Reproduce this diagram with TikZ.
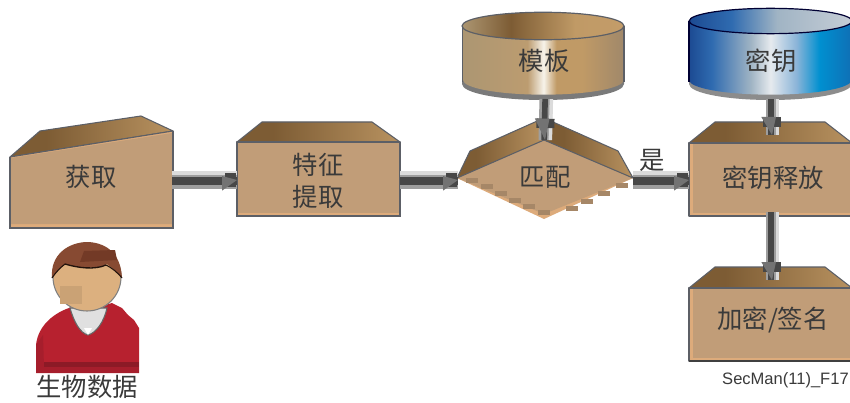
\documentclass[tikz,border=0pt]{standalone}
\usepackage{fontspec}
\setmainfont{Liberation Sans}
\newfontfamily\cjk{Noto Sans CJK SC}
\usetikzlibrary{calc,arrows.meta}
\definecolor{faceC}{HTML}{C19D78}
\definecolor{edgeL}{HTML}{DDAB7B}
\definecolor{lineC}{HTML}{5C5F66}
\definecolor{txtC}{HTML}{3A3A3A}
\definecolor{redC}{HTML}{B7212F}
\definecolor{redD}{HTML}{8C1A26}
\definecolor{redM}{HTML}{A61E2C}
\definecolor{hairC}{HTML}{874A32}
\definecolor{hairD}{HTML}{733A26}
\definecolor{skinC}{HTML}{DCB07F}
\definecolor{r1}{HTML}{7D5C34}\definecolor{r2}{HTML}{B89260}
\pgfdeclarehorizontalshading{roofShade}{100bp}{
 color(0bp)=(r1);
 color(36bp)=(r1);
 color(75bp)=(r2);
 color(100bp)=(r2)}
\definecolor{g1}{HTML}{AC9672}\definecolor{g2}{HTML}{BC9C70}\definecolor{g3}{HTML}{F7F3EA}
\definecolor{g4}{HTML}{C09A66}\definecolor{g5}{HTML}{A0886A}\definecolor{g6}{HTML}{7D5C34}\definecolor{g7}{HTML}{C39C69}
\definecolor{b1}{HTML}{1C4A92}\definecolor{b2}{HTML}{2F6BB0}\definecolor{b3}{HTML}{A0B4C4}\definecolor{b4}{HTML}{E6EAEE}
\definecolor{b5}{HTML}{8AB4D8}\definecolor{b6}{HTML}{0090D0}\definecolor{b7}{HTML}{0F6FB5}\definecolor{b8}{HTML}{C6CDD6}
\pgfdeclarehorizontalshading{goldBody}{100bp}{color(0bp)=(g1);color(25bp)=(g1);color(45bp)=(g2);color(50bp)=(g3);color(54bp)=(g4);color(62bp)=(g4);color(75bp)=(g5);color(100bp)=(g5)}
\pgfdeclarehorizontalshading{goldTop}{100bp}{color(0bp)=(g1);color(25bp)=(g1);color(40bp)=(g6);color(60bp)=(g4);color(75bp)=(g7);color(100bp)=(g7)}
\pgfdeclarehorizontalshading{blueBody}{100bp}{color(0bp)=(b1);color(25bp)=(b1);color(32bp)=(b2);color(44bp)=(b3);color(50bp)=(b4);color(58bp)=(b5);color(65bp)=(b6);color(75bp)=(b7);color(100bp)=(b7)}
\pgfdeclarehorizontalshading{blueTop}{100bp}{color(0bp)=(b1);color(25bp)=(b1);color(38bp)=(b2);color(52bp)=(b3);color(75bp)=(b8);color(100bp)=(b8)}
\tikzset{
 x=0.75pt,y=-0.75pt,
 frontface/.style={fill=edgeL,draw=lineC,line width=0.8pt,line join=round},
 innerface/.style={fill=faceC},
 roof/.style={shading=roofShade,draw=lineC,line width=0.8pt,line join=round},
 label/.style={font=\cjk\fontsize{19}{24}\selectfont,text=txtC,inner sep=0pt},
 tag/.style={font=\fontsize{12.4}{14}\selectfont,text=txtC,inner sep=0pt},
 band/.style={line cap=butt},
}
% \conn{from}{to}{half width}{block near}{block far}{block width}{tip base}
\newcommand{\conn}[7]{%
 \draw[band,line width=#3*1.5pt,draw=black!38] (#1) -- (#2);
 \draw[band,line width=#3*0.4pt,draw=black!14] ($(#1)!#3*0.62pt!90:(#2)$) -- ($(#2)!#3*0.62pt!-90:(#1)$);
 \draw[band,line width=#3*0.65pt,draw=black!72] ($(#1)!#3*0.1pt!-90:(#2)$) -- ($(#2)!#3*0.1pt!90:(#1)$);
 \coordinate (tb) at ($(#2)!#7!(#1)$);
 \draw[band,line width=#6,draw=black!72] ($(#2)!#5!(#1)$) -- ($(#2)!#4!(#1)$);
 \fill[black!55] ($(tb)!8pt!-90:(#2)$) -- (#2) -- ($(tb)!3pt!90:(#2)$) -- cycle;
}
\begin{document}
\begin{tikzpicture}
\clip (0,0) rectangle (850,403);
\fill[white] (0,0) rectangle (850,403);

% ---- capture box
\draw[roof] (10,157) -- (40,131) -- (141,116) -- (173,131) -- cycle;
\draw[frontface] (10,157) -- (173,131) -- (173,228) -- (10,228) -- cycle;
\fill[innerface] (11,158) -- (172,133) -- (172,224) -- (11,224) -- cycle;
\draw[lineC,line width=0.8pt] (10,157) -- (10,228) -- (173,228) -- (173,131);
\node[label] (cap) at (91,177) {获取};
\coordinate (capR) at (172,180);

% ---- feature box
\draw[roof] (237,142) -- (262,122) -- (372,122) -- (400,142) -- cycle;
\draw[frontface] (237,142) rectangle (400,216);
\fill[innerface] (237.6,142.6) rectangle (399.4,212.5);
\draw[lineC,line width=0.8pt] (237,142) -- (237,216) -- (400,216) -- (400,142);
\node[label,align=center] (feat) at (318,181) {特征\\提取};
\coordinate (featL) at (237,180);
\coordinate (featR) at (400,180);

% ---- match diamond
\fill[edgeL] (457,178) -- (544,140) -- (633,178) -- (544,219) -- cycle;
\fill[innerface] (457,178) -- (544,140) -- (633,178) -- (544,214) -- cycle;
\foreach \px/\py in {466/178,481/184,495/191,509/198,523/204,538/210,566/206,581/199,598/191,616/183}
  \fill[black!14!faceC] (\px,\py) rectangle +(12,5);
\draw[roof] (457,178) -- (470,151) -- (544,118) -- (544,140) -- cycle;
\draw[roof] (633,178) -- (618,151) -- (544,118) -- (544,140) -- cycle;
\node[label] (match) at (545,177) {匹配};
\coordinate (matchL) at (458,180);
\coordinate (matchR) at (633,180);
\coordinate (matchT) at (545,140);

% ---- key release box
\draw[roof] (689,143) -- (715,122) -- (825,122) -- (852,143) -- cycle;
\draw[frontface] (689,143) rectangle (853,216);
\fill[innerface] (693,144) rectangle (853,212.5);
\node[label] (rel) at (773,178) {密钥释放};
\coordinate (relL) at (689,180);
\coordinate (relT) at (772,135);
\coordinate (relB) at (772,212);

% ---- encrypt/sign box
\draw[roof] (689,288) -- (715,267) -- (825,267) -- (852,288) -- cycle;
\draw[frontface] (689,288) rectangle (853,361);
\fill[innerface] (693,289) rectangle (853,358);
\draw[black!75,line width=0.8pt] (689,361) -- (853,361);
\node[label] (enc) at (773,320) {加密/签名};
\coordinate (encT) at (772,280);

% ---- template cylinder
\fill[black!52] (462,26) -- (462,84) arc[start angle=180,end angle=360,x radius=60.75pt,y radius=12pt] -- (624,26) -- cycle;
\shade[shading=goldBody] (463,26) -- (463,80) arc[start angle=180,end angle=360,x radius=60.3pt,y radius=11pt] -- (624,26) -- cycle;
\draw[shading=goldTop,draw=lineC,line width=0.9pt] (543,26) ellipse[x radius=60.75pt,y radius=10.3pt];
\draw[lineC,line width=0.8pt] (462.5,26) -- (462.5,82);
\draw[lineC,line width=0.8pt] (624,26) -- (624,82);
\node[label] (tmpl) at (544,61) {模板};
\coordinate (tmplB) at (546,99);

% ---- key cylinder
\fill[black!45] (689,21) -- (689,84) arc[start angle=180,end angle=360,x radius=61pt,y radius=12pt] -- (852,21) -- cycle;
\shade[shading=blueBody] (689,21) -- (689,80) arc[start angle=180,end angle=360,x radius=61pt,y radius=11pt] -- (852,21) -- cycle;
\draw[shading=blueTop,draw=black!80!blue,line width=0.9pt] (770.5,21) ellipse[x radius=61pt,y radius=9.5pt];
\draw[black!80!blue,line width=0.8pt] (689,21) -- (689,82);
\node[label] (keyN) at (771,61) {密钥};
\coordinate (keyB) at (772,99);

% ---- connectors
\conn{capR}{featL}{8.5}{1pt}{9pt}{10pt}{11.25pt}
\conn{featR}{matchL}{8.5}{1pt}{9pt}{10pt}{11.25pt}
\conn{matchR}{relL}{8.5}{1pt}{9pt}{10pt}{11.25pt}
\conn{tmplB}{matchT}{6.5}{9pt}{16pt}{13.5pt}{16pt}
\conn{keyB}{relT}{6.5}{6pt}{13.5pt}{13.5pt}{13.5pt}
\conn{relB}{encT}{6.5}{6pt}{13.5pt}{13.5pt}{13.5pt}
\node[label] (yes) at (652,160) {是};

% ---- person
\fill[redC] (36,373) -- (36,345) .. controls (38,325) and (55,312) .. (72,307) -- (105,305) -- (112,303) -- (122,308) -- (128,315) -- (134,320) -- (139,328) -- (139,373) -- cycle;
\fill[redD] (43,362) rectangle (139,367);
\fill[redM] (36,367) rectangle (139,373);
\fill[redM] (36,345) -- (43,335) -- (44,367) -- (36,367) -- cycle;
\draw[black!60,line width=0.8pt,fill=black!12] (70,308) .. controls (74,322) and (80,333) .. (88,335) .. controls (96,333) and (104,322) .. (107,308) -- cycle;
\fill[white] (84,328) -- (92,328) -- (88,335) -- cycle;
\draw[black!50,line width=0.8pt,fill=skinC] (87,277) circle[radius=25.5pt];
\fill[black!8!skinC] (60,286) rectangle (82,304);
\fill[hairC] (52,278) .. controls (50,255) and (68,242) .. (88,242) .. controls (108,243) and (121,255) .. (122,278) .. controls (117,272) and (112,268) .. (107,264) .. controls (95,270) and (78,268) .. (65,264) .. controls (60,268) and (56,272) .. (52,278) -- cycle;
\draw[black!75!hairC,line width=1pt] (65,264) .. controls (78,268) and (95,270) .. (106,265);
\draw[black!75!hairC,line width=0.8pt] (52,278) .. controls (56,272) and (60,268) .. (65,264);
\draw[black!75!hairC,line width=0.8pt] (122,278) .. controls (117,272) and (112,268) .. (106,265);
\fill[hairD] (84,251) -- (115,250) -- (117,260) -- (80,262) -- cycle;

\node[label] (bio) at (87,387) {生物数据};
\node[tag,anchor=east] (fig) at (849,380) {SecMan(11)\_F17};
\end{tikzpicture}
\end{document}
